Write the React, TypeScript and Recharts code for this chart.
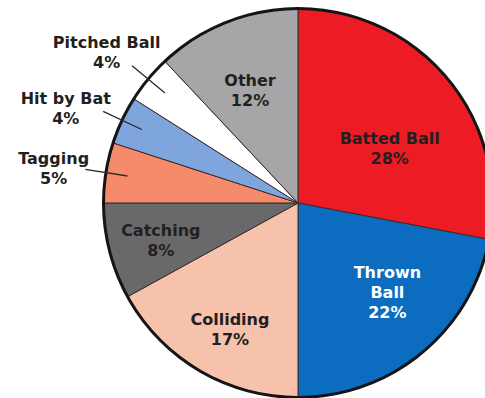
import { PieChart, Pie, Cell } from "recharts";

// slices, clockwise from 12 o'clock
const categories = [
  "Batted Ball",
  "Thrown Ball",
  "Colliding",
  "Catching",
  "Tagging",
  "Hit by Bat",
  "Pitched Ball",
  "Other",
];
const shares = [28, 22, 17, 8, 5, 4, 4, 12];
const labelLines = [
  ["Batted Ball"],
  ["Thrown", "Ball"],
  ["Colliding"],
  ["Catching"],
  ["Tagging"],
  ["Hit by Bat"],
  ["Pitched Ball"],
  ["Other"],
];
const colors = [
  "#ed1c24",
  "#0b6cc0",
  "#f7c2ab",
  "#69696b",
  "#f68b6c",
  "#7ea5dc",
  "#ffffff",
  "#a6a6a8",
];

const data = categories.map((name, i) => ({ name, value: shares[i] }));

// label placement: radius as fraction of outer radius plus a small nudge
const labelPlace: Record<string, { r: number; dx: number; dy: number; outside?: boolean; fill?: string }> = {
  "Batted Ball": { r: 0.58, dx: 5, dy: 17 },
  "Thrown Ball": { r: 0.65, dx: 9, dy: -8, fill: "#ffffff" },
  Colliding: { r: 0.74, dx: 5, dy: 2 },
  Catching: { r: 0.73, dx: 0, dy: 2 },
  Tagging: { r: 1.27, dx: -1, dy: 4, outside: true },
  "Hit by Bat": { r: 1.3, dx: -4, dy: 12, outside: true },
  "Pitched Ball": { r: 1.26, dx: -3, dy: 5, outside: true },
  Other: { r: 0.63, dx: -3, dy: 1 },
};

const RADIAN = Math.PI / 180;
const LINE_H = 20;

const renderLabel = (props: any) => {
  const { cx, cy, midAngle, outerRadius, index } = props;
  const name = categories[index];
  const place = labelPlace[name];
  const cos = Math.cos(-midAngle * RADIAN);
  const sin = Math.sin(-midAngle * RADIAN);
  const x = cx + outerRadius * place.r * cos + place.dx;
  const y = cy + outerRadius * place.r * sin + place.dy;
  const lines = [...labelLines[index], `${shares[index]}%`];
  const top = y - ((lines.length - 1) * LINE_H) / 2;
  return (
    <g key={name}>
      {place.outside && (
        <line
          x1={cx + outerRadius * 0.89 * cos}
          y1={cy + outerRadius * 0.89 * sin}
          x2={cx + outerRadius * 1.11 * cos}
          y2={cy + outerRadius * 1.11 * sin}
          stroke="#2a2a2a"
          strokeWidth={1.3}
        />
      )}
      <text
        x={x}
        y={top}
        textAnchor="middle"
        dominantBaseline="central"
        fill={place.fill ?? "#231f20"}
        style={{ fontFamily: "DejaVu Sans", fontWeight: 700, fontSize: 16 }}
      >
        {lines.map((t, i) => (
          <tspan key={i} x={x} y={top + i * LINE_H}>
            {t}
          </tspan>
        ))}
      </text>
    </g>
  );
};

export default function App() {
  return (
    <div style={{ position: "absolute", left: 0, top: 0, width: 485, height: 398, background: "#fff", overflow: "hidden" }}>
      <PieChart width={485} height={398} margin={{ top: 0, right: 0, bottom: 0, left: 0 }}>
        <Pie
          data={data}
          dataKey="value"
          nameKey="name"
          cx={298}
          cy={203}
          outerRadius={194}
          startAngle={90}
          endAngle={-270}
          stroke="#3a2a2a"
          strokeWidth={1}
          label={renderLabel}
          labelLine={false}
          isAnimationActive={false}
        >
          {data.map((d, i) => (
            <Cell key={d.name} fill={colors[i]} />
          ))}
        </Pie>
        {/* heavy outer rim */}
        <Pie
          data={[{ name: "rim", value: 1 }]}
          dataKey="value"
          cx={298}
          cy={203}
          innerRadius={193}
          outerRadius={196}
          startAngle={90}
          endAngle={-270}
          fill="#151515"
          stroke="none"
          isAnimationActive={false}
        />
      </PieChart>
    </div>
  );
}
